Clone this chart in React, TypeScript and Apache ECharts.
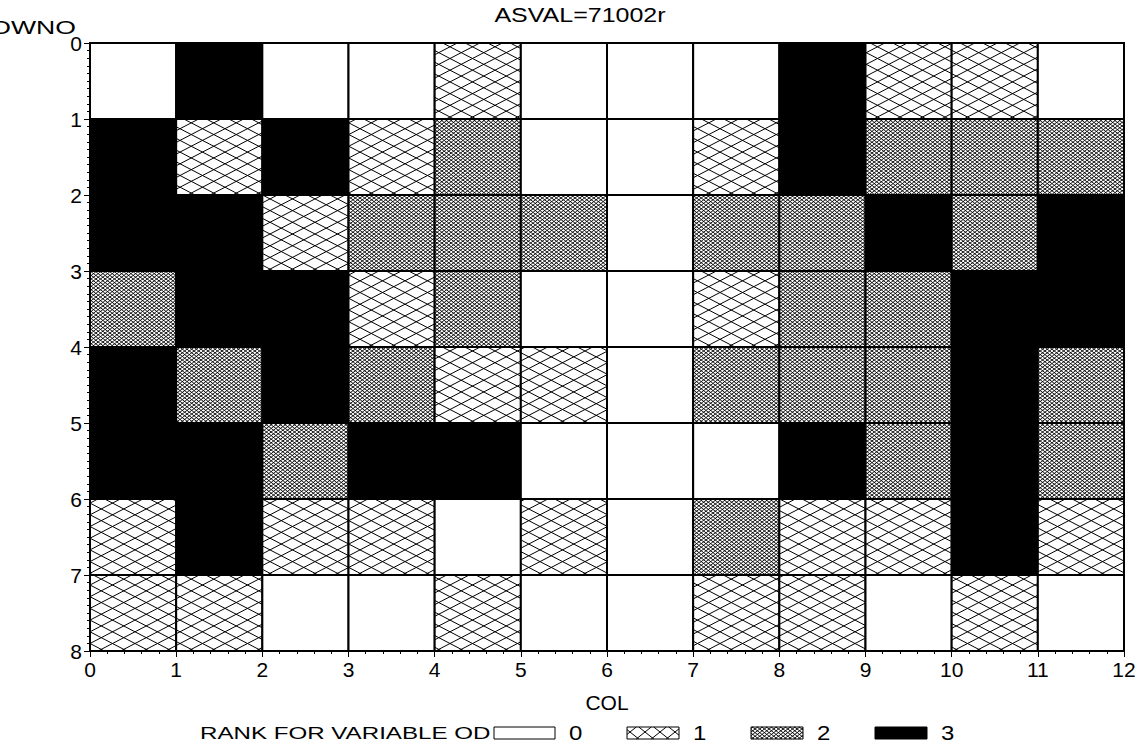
import React, { useEffect, useRef } from "react";
import * as echarts from "echarts";

// ---------- data ----------
const TITLE = "ASVAL=71002r";
const X_NAME = "COL";
const Y_NAME = "ROWNO";
const LEGEND_TITLE = "RANK FOR VARIABLE OD";
const RANK_LEVELS = ["0", "1", "2", "3"];
const N_COLS = 12;
const N_ROWS = 8;

// rank of each cell, one array per ROWNO band (0 at top), 12 COL values each
const ROW_0 = [0, 3, 0, 0, 1, 0, 0, 0, 3, 1, 1, 0];
const ROW_1 = [3, 1, 3, 1, 2, 0, 0, 1, 3, 2, 2, 2];
const ROW_2 = [3, 3, 1, 2, 2, 2, 0, 2, 2, 3, 2, 3];
const ROW_3 = [2, 3, 3, 1, 2, 0, 0, 1, 2, 2, 3, 3];
const ROW_4 = [3, 2, 3, 2, 1, 1, 0, 2, 2, 2, 3, 2];
const ROW_5 = [3, 3, 2, 3, 3, 0, 0, 0, 3, 2, 3, 2];
const ROW_6 = [1, 3, 1, 1, 0, 1, 0, 2, 1, 1, 3, 1];
const ROW_7 = [1, 1, 0, 0, 1, 0, 0, 1, 1, 0, 1, 0];
const RANK_ROWS = [ROW_0, ROW_1, ROW_2, ROW_3, ROW_4, ROW_5, ROW_6, ROW_7];

const FONT = '"Liberation Sans", Arial, sans-serif';

// ---------- hatch helpers ----------
type Seg = [number, number, number, number];
function hatchSegments(x0: number, y0: number, x1: number, y1: number, delta: number, a: number): Seg[] {
  const segs: Seg[] = [];
  // family y = a x + c
  const cMin = y0 - a * x1;
  const cMax = y1 - a * x0;
  for (let k = Math.ceil(cMin / delta); k * delta <= cMax; k++) {
    const c = k * delta;
    const xa = Math.max(x0, (y0 - c) / a);
    const xb = Math.min(x1, (y1 - c) / a);
    if (xb - xa > 0.05) segs.push([xa, a * xa + c, xb, a * xb + c]);
  }
  // family y = -a x + c
  const dMin = y0 + a * x0;
  const dMax = y1 + a * x1;
  for (let k = Math.ceil(dMin / delta); k * delta <= dMax; k++) {
    const c = k * delta;
    const xa = Math.max(x0, (c - y1) / a);
    const xb = Math.min(x1, (c - y0) / a);
    if (xb - xa > 0.05) segs.push([xa, c - a * xa, xb, c - a * xb]);
  }
  return segs;
}
function segsToPath(segs: Seg[]): string {
  return segs
    .map((s) => `M${s[0].toFixed(2)} ${s[1].toFixed(2)}L${s[2].toFixed(2)} ${s[3].toFixed(2)}`)
    .join("");
}

const SPARSE = { delta: 11.7, a: 0.52 };
const DENSE = { delta: 3.6, a: 0.77 };

export default function App() {
  const ref = useRef<HTMLDivElement>(null);

  useEffect(() => {
    if (!ref.current) return;
    const chart = echarts.init(ref.current, null, { renderer: "svg" });

    const cells: number[][] = [];
    RANK_ROWS.forEach((row, r) => row.forEach((k, c) => cells.push([c, r, k])));

    const renderItem = (params: any, api: any) => {
      const c = api.value(0);
      const r = api.value(1);
      const k = api.value(2);
      const p0 = api.coord([c, r]);
      const p1 = api.coord([c + 1, r + 1]);
      const x0 = Math.min(p0[0], p1[0]);
      const x1 = Math.max(p0[0], p1[0]);
      const y0 = Math.min(p0[1], p1[1]);
      const y1 = Math.max(p0[1], p1[1]);
      const children: any[] = [
        {
          type: "rect",
          shape: { x: x0, y: y0, width: x1 - x0, height: y1 - y0 },
          style: { fill: k === 3 ? "#000" : "#fff", stroke: null },
        },
      ];
      if (k === 1 || k === 2) {
        const p = k === 1 ? SPARSE : DENSE;
        children.push({
          type: "path",
          shape: { pathData: segsToPath(hatchSegments(x0, y0, x1, y1, p.delta, p.a)) },
          style: { stroke: "#000", fill: null, lineWidth: k === 1 ? 1 : 0.9 },
        });
      }
      children.push({
        type: "rect",
        shape: { x: x0, y: y0, width: x1 - x0, height: y1 - y0 },
        style: { fill: null, stroke: "#000", lineWidth: 2 },
      });
      return { type: "group", children };
    };

    // legend graphics
    const legendEls: any[] = [
      {
        type: "text",
        x: 200,
        y: 733,
        scaleX: 1.42,
        style: {
          text: LEGEND_TITLE,
          fontSize: 17,
          fontFamily: FONT,
          fill: "#000",
          textVerticalAlign: "middle",
          verticalAlign: "middle",
        },
      },
    ];
    RANK_LEVELS.forEach((lab, i) => {
      const bx1 = 555 + 124 * i;
      const bx0 = i === 0 ? 494 : bx1 - 52;
      const by0 = 727;
      const by1 = 739;
      legendEls.push({
        type: "rect",
        shape: { x: bx0, y: by0, width: bx1 - bx0, height: by1 - by0 },
        style: { fill: i === 3 ? "#000" : "#fff", stroke: "#000", lineWidth: 1 },
      });
      if (i === 1 || i === 2) {
        const segs = i === 1 ? hatchSegments(bx0, by0, bx1, by1, 12, 0.8) : hatchSegments(bx0, by0, bx1, by1, DENSE.delta, DENSE.a);
        segs.forEach((s) =>
          legendEls.push({
            type: "line",
            shape: { x1: s[0], y1: s[1], x2: s[2], y2: s[3] },
            style: { stroke: "#000", lineWidth: i === 1 ? 1 : 0.9 },
          })
        );
      }
      legendEls.push({
        type: "text",
        x: bx1 + 14,
        y: 733,
        scaleX: 1.2,
        style: {
          text: lab,
          fontSize: 20,
          fontFamily: FONT,
          fill: "#000",
          textVerticalAlign: "middle",
          verticalAlign: "middle",
        },
      });
    });

    const option: any = {
      animation: false,
      backgroundColor: "#fff",
      grid: { left: 90, right: 18, top: 43, bottom: 96, containLabel: false },
      xAxis: {
        type: "value",
        min: 0,
        max: N_COLS,
        interval: 1,
        position: "bottom",
        axisLine: { show: true, onZero: false, lineStyle: { color: "#000", width: 1 } },
        axisTick: { show: true, length: 6, lineStyle: { color: "#000" } },
        minorTick: { show: true, splitNumber: 5, length: 3, lineStyle: { color: "#000" } },
        axisLabel: { fontSize: 21, color: "#000", margin: 8, fontFamily: FONT },
        splitLine: { show: false },
        name: X_NAME,
        nameLocation: "middle",
        nameGap: 41,
        nameTextStyle: { fontSize: 21, color: "#000", fontFamily: FONT },
      },
      yAxis: {
        type: "value",
        inverse: true,
        min: 0,
        max: N_ROWS,
        interval: 1,
        axisLine: { show: true, onZero: false, lineStyle: { color: "#000", width: 1 } },
        axisTick: { show: true, length: 6, lineStyle: { color: "#000" } },
        minorTick: { show: true, splitNumber: 10, length: 3, lineStyle: { color: "#000" } },
        axisLabel: { fontSize: 21, color: "#000", margin: 8, fontFamily: FONT },
        splitLine: { show: false },
      },
      series: [
        {
          type: "custom",
          silent: true,
          renderItem,
          encode: { x: 0, y: 1 },
          data: cells,
          z: 1,
        },
      ],
      graphic: [
        {
          type: "text",
          x: 580,
          y: 14.5,
          scaleX: 1.19,
          style: {
            text: TITLE,
            fontSize: 21,
            fontFamily: FONT,
            fill: "#000",
            textAlign: "center",
            align: "center",
            textVerticalAlign: "middle",
            verticalAlign: "middle",
          },
        },
        {
          type: "text",
          x: 76,
          y: 27,
          scaleX: 1.4,
          style: {
            text: Y_NAME,
            fontSize: 19,
            fontFamily: FONT,
            fill: "#000",
            textAlign: "right",
            align: "right",
            textVerticalAlign: "middle",
            verticalAlign: "middle",
          },
        },
        ...legendEls,
      ],
    };
    chart.setOption(option);
    return () => chart.dispose();
  }, []);

  return (
    <div
      ref={ref}
      style={{ position: "absolute", left: 0, top: 0, width: 1142, height: 747, background: "#fff" }}
    />
  );
}
